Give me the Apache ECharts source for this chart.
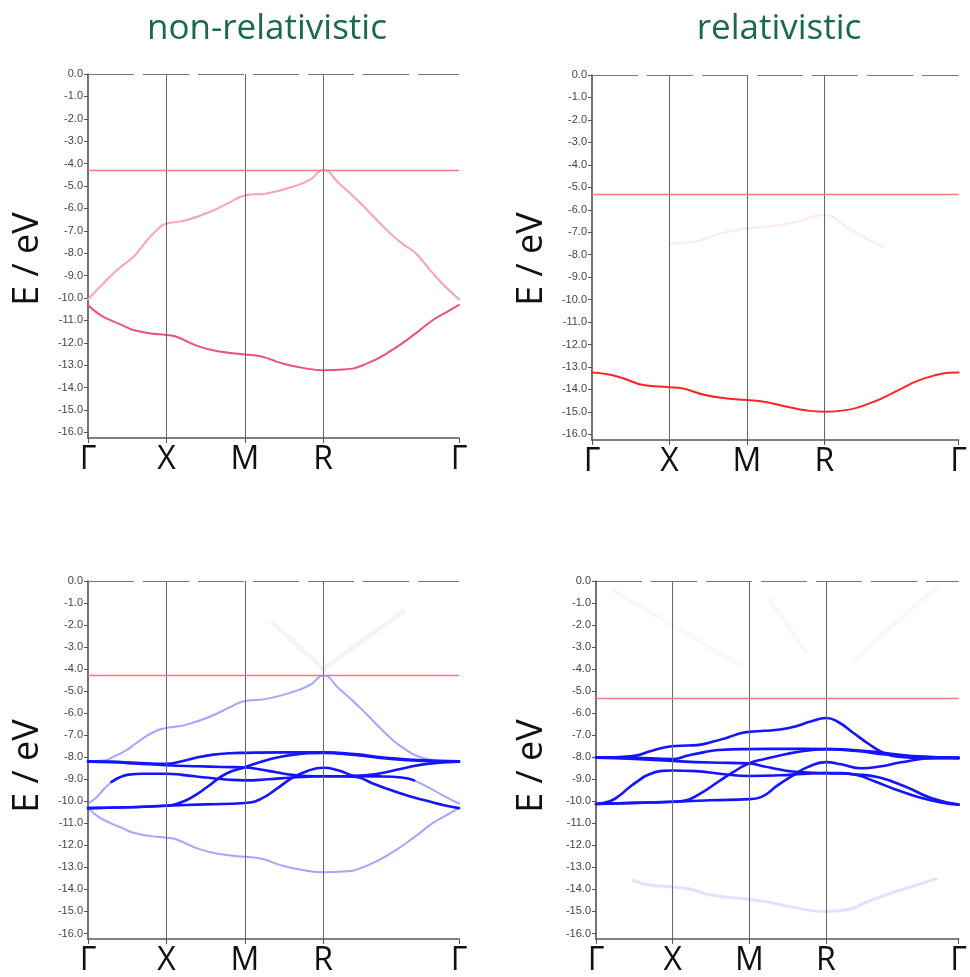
<!DOCTYPE html>
<html>
<head>
<meta charset="utf-8">
<script src="https://cdn.jsdelivr.net/npm/echarts@6/dist/echarts.min.js"></script>
<style>
  html, body { margin: 0; padding: 0; background: #ffffff; }
  #chart { width: 970px; height: 977px; }
</style>
</head>
<body>
<div id="chart"></div>
<script>
// k-path along the simple cubic Brillouin zone: Γ-X-M-R-Γ (path length units)
const KPOS = [0, 0.5, 1.0, 1.5, 2.366];
const KLABELS = ['Γ', 'X', 'M', 'R', 'Γ'];
const KMAX = 2.366;
const ETICKS = [0, -1, -2, -3, -4, -5, -6, -7, -8, -9, -10, -11, -12, -13, -14, -15, -16];
const E_MIN = -16.25;
const PANEL_TITLES = ['non-relativistic', 'relativistic'];
const AXIS_NAME = 'E / eV';

// Fermi levels (eV)
const NR_EF = -4.3;
const R_EF = -5.32;

// ---- non-relativistic s bands ----
const NR_S_UPPER = [[0,-10.06],[0.07,-9.55],[0.14,-9.05],[0.21,-8.6],[0.29,-8.16],[0.35,-7.65],[0.42,-7.1],[0.5,-6.67],[0.55,-6.62],[0.63,-6.52],[0.78,-6.15],[0.9,-5.75],[1.0,-5.42],[1.14,-5.33],[1.31,-5.03],[1.42,-4.7],[1.5,-4.29],[1.6,-4.88],[1.69,-5.45],[1.78,-6.07],[1.86,-6.65],[1.95,-7.26],[2.02,-7.65],[2.09,-8.0],[2.2,-8.9],[2.28,-9.5],[2.366,-10.06]];
const NR_S_LOWER = [[0,-10.31],[0.07,-10.72],[0.14,-10.98],[0.22,-11.22],[0.29,-11.43],[0.4,-11.58],[0.5,-11.65],[0.56,-11.72],[0.71,-12.17],[0.85,-12.4],[1.0,-12.52],[1.1,-12.6],[1.24,-12.92],[1.37,-13.12],[1.5,-13.22],[1.63,-13.19],[1.78,-12.92],[1.94,-12.32],[2.09,-11.58],[2.2,-10.98],[2.29,-10.62],[2.366,-10.31]];

// ---- relativistic s bands ----
const R_S_LOWER = [[0,-13.24],[0.1,-13.32],[0.2,-13.5],[0.33,-13.8],[0.5,-13.9],[0.58,-13.95],[0.73,-14.25],[0.87,-14.4],[1.0,-14.47],[1.11,-14.55],[1.26,-14.77],[1.38,-14.93],[1.5,-14.99],[1.64,-14.92],[1.79,-14.62],[1.9,-14.3],[2.0,-13.95],[2.1,-13.62],[2.22,-13.36],[2.3,-13.26],[2.366,-13.24]];
const R_S_UPPER = [[0.5,-7.5],[0.66,-7.42],[0.83,-7.05],[1.0,-6.83],[1.15,-6.75],[1.32,-6.53],[1.5,-6.23],[1.64,-6.75],[1.79,-7.35],[1.88,-7.64]];
const R_S_LOWER_WEAK = [[0.24,-13.59],[0.35,-13.8],[0.5,-13.89],[0.6,-13.97],[0.75,-14.25],[1.0,-14.45],[1.12,-14.57],[1.26,-14.78],[1.5,-15.0],[1.64,-14.92],[1.77,-14.56],[1.93,-14.15],[2.09,-13.81],[2.22,-13.51]];

// ---- non-relativistic bands, s+d projection ----
const NR_SD_UP1 = [[0,-10.09],[0.05,-9.85],[0.1,-9.45],[0.15,-9.12]];
const NR_SD_UP2 = [[0,-8.18],[0.1,-8.15],[0.17,-7.95],[0.24,-7.7],[0.3,-7.4],[0.36,-7.1],[0.43,-6.82],[0.5,-6.67],[0.55,-6.62],[0.63,-6.52],[0.78,-6.15],[0.9,-5.75],[1.0,-5.45],[1.14,-5.35],[1.31,-5.03],[1.42,-4.7],[1.5,-4.29],[1.6,-4.88],[1.69,-5.45],[1.78,-6.07],[1.86,-6.65],[1.95,-7.26],[2.02,-7.62],[2.09,-7.92],[2.18,-8.1],[2.28,-8.17],[2.366,-8.18]];
const NR_SD_TAIL = [[2.08,-9.05],[2.18,-9.4],[2.28,-9.8],[2.366,-10.1]];
const NR_D1 = [[0,-8.18],[0.15,-8.2],[0.3,-8.25],[0.5,-8.3],[0.6,-8.18],[0.7,-8.0],[0.8,-7.88],[0.9,-7.82],[1.0,-7.8],[1.25,-7.78],[1.5,-7.78],[1.7,-7.86],[1.9,-8.02],[2.1,-8.13],[2.366,-8.18]];
const NR_D2 = [[0,-10.31],[0.25,-10.27],[0.5,-10.2],[0.55,-10.15],[0.63,-9.94],[0.7,-9.65],[0.76,-9.35],[0.88,-8.75],[1.0,-8.45],[1.1,-8.22],[1.2,-8.02],[1.3,-7.9],[1.4,-7.82],[1.5,-7.8],[1.7,-7.9],[1.9,-8.06],[2.1,-8.16],[2.366,-8.2]];
const NR_D3 = [[0,-8.2],[0.15,-8.23],[0.3,-8.28],[0.5,-8.36],[0.7,-8.41],[0.85,-8.44],[1.0,-8.46],[1.1,-8.56],[1.2,-8.68],[1.3,-8.8],[1.4,-8.85],[1.5,-8.86],[1.6,-8.86],[1.71,-8.9],[1.82,-9.2],[1.93,-9.49],[2.05,-9.77],[2.16,-9.98],[2.27,-10.18],[2.366,-10.31]];
const NR_D4 = [[0.15,-9.12],[0.2,-8.92],[0.26,-8.79],[0.35,-8.75],[0.5,-8.75],[0.6,-8.8],[0.75,-8.92],[0.9,-9.02],[1.0,-9.05],[1.15,-9.0],[1.3,-8.92],[1.5,-8.86],[1.7,-8.86],[1.85,-8.87],[2.0,-8.92],[2.08,-9.05]];
const NR_D5 = [[0,-10.31],[0.25,-10.27],[0.5,-10.2],[0.75,-10.14],[1.0,-10.08],[1.1,-9.9],[1.2,-9.45],[1.3,-8.95],[1.4,-8.62],[1.5,-8.48],[1.6,-8.6],[1.71,-8.84],[1.85,-8.75],[2.0,-8.52],[2.16,-8.3],[2.366,-8.2]];
const NR_FAINT = [[[1.18,-1.9],[1.5,-4.0]], [[1.5,-4.0],[2.01,-1.38]]];

// ---- relativistic bands, s+d projection ----
const R_D1 = [[0,-8.0],[0.12,-8.0],[0.24,-7.95],[0.36,-7.72],[0.47,-7.52],[0.55,-7.48],[0.66,-7.45],[0.76,-7.3],[0.86,-7.1],[0.95,-6.9],[1.0,-6.85],[1.1,-6.8],[1.2,-6.74],[1.3,-6.6],[1.4,-6.38],[1.5,-6.22],[1.58,-6.4],[1.68,-6.9],[1.78,-7.4],[1.87,-7.78],[1.97,-7.98],[2.1,-8.03],[2.366,-8.04]];
const R_D2 = [[0,-8.0],[0.25,-8.02],[0.5,-8.08],[0.6,-7.92],[0.7,-7.78],[0.8,-7.67],[1.0,-7.63],[1.25,-7.62],[1.5,-7.63],[1.7,-7.68],[1.9,-7.82],[2.1,-7.96],[2.366,-8.03]];
const R_D3 = [[0,-8.02],[0.25,-8.08],[0.5,-8.17],[0.75,-8.24],[1.0,-8.28],[1.1,-8.42],[1.2,-8.56],[1.3,-8.66],[1.5,-8.72],[1.7,-8.78],[1.85,-8.92],[2.02,-9.34],[2.19,-9.86],[2.366,-10.15]];
const R_D4 = [[0,-10.12],[0.25,-10.07],[0.5,-10.02],[0.58,-9.97],[0.68,-9.65],[0.8,-9.1],[0.9,-8.65],[1.0,-8.27],[1.1,-8.08],[1.2,-7.92],[1.3,-7.78],[1.4,-7.68],[1.5,-7.63],[1.7,-7.72],[1.9,-7.88],[2.1,-7.98],[2.366,-8.03]];
const R_D5 = [[0,-10.12],[0.09,-10.0],[0.16,-9.7],[0.22,-9.35],[0.28,-9.05],[0.33,-8.83],[0.43,-8.62],[0.5,-8.6],[0.65,-8.63],[0.82,-8.76],[1.0,-8.85],[1.2,-8.82],[1.35,-8.76],[1.5,-8.72],[1.6,-8.72],[1.7,-8.8],[1.82,-9.1],[1.95,-9.45],[2.1,-9.8],[2.25,-10.05],[2.366,-10.15]];
const R_D6 = [[0,-10.12],[0.25,-10.07],[0.5,-10.02],[0.75,-9.95],[1.0,-9.9],[1.08,-9.8],[1.18,-9.3],[1.28,-8.85],[1.38,-8.45],[1.5,-8.22],[1.6,-8.32],[1.73,-8.5],[1.85,-8.42],[1.99,-8.23],[2.2,-8.04],[2.366,-8.03]];
const R_FAINT = [[[0.113,-0.42],[0.943,-3.84]], [[1.135,-0.86],[1.369,-3.24]], [[1.667,-3.69],[2.221,-0.27]]];

// ---- layout / styles ----
const GRIDS = [
  { left: 88,  top: 74,  width: 371, height: 364 },
  { left: 592, top: 75,  width: 371, height: 365 },
  { left: 88,  top: 581, width: 371, height: 365 },
  { left: 596, top: 581, width: 370, height: 365 }
];
const PANEL_EF = [NR_EF, R_EF, NR_EF, R_EF];

const DARK_BLUE = '#1414ff';
const LIGHT_BLUE = 'rgba(110,110,255,0.62)';

const xAxes = GRIDS.map((g, i) => ({
  gridIndex: i, type: 'value', min: 0, max: KMAX,
  axisLine: { show: true, onZero: false, lineStyle: { color: '#555', width: 1.5 } },
  axisTick: { show: true, customValues: KPOS, length: 5, lineStyle: { color: '#555' } },
  axisLabel: {
    show: true, customValues: KPOS, margin: 6,
    fontFamily: 'Open Sans', fontSize: 32, color: '#111',
    formatter: v => { const j = KPOS.findIndex(p => Math.abs(p - v) < 1e-6); return j >= 0 ? KLABELS[j] : ''; }
  },
  splitLine: { show: false }
}));

const yAxes = GRIDS.map((g, i) => ({
  gridIndex: i, type: 'value', min: E_MIN, max: 0,
  axisLine: { show: true, onZero: false, lineStyle: { color: '#444', width: 1.5 } },
  axisTick: { show: true, customValues: ETICKS, length: 4, lineStyle: { color: '#555' } },
  axisLabel: {
    show: true, customValues: ETICKS, margin: 5,
    fontFamily: 'Liberation Sans', fontSize: 11, color: '#444',
    formatter: v => (Math.abs(v) < 1e-9 ? '0.0' : v.toFixed(1))
  },
  splitLine: { show: false }
}));

function band(i, data, color, width) {
  return {
    type: 'line', xAxisIndex: i, yAxisIndex: i, data: data,
    showSymbol: false, smooth: 0.5,
    lineStyle: { color: color, width: width, cap: 'round', join: 'round' }, silent: true, z: 3
  };
}

// frame: symmetry-point verticals, right edge, top edge and Fermi level
function frame(i) {
  return {
    type: 'line', xAxisIndex: i, yAxisIndex: i, data: [], silent: true, z: 2,
    markLine: {
      silent: true, symbol: ['none', 'none'], label: { show: false }, animation: false,
      data: [
        { xAxis: KPOS[1], lineStyle: { color: '#666', width: 1, type: 'solid' } },
        { xAxis: KPOS[2], lineStyle: { color: '#666', width: 1, type: 'solid' } },
        { xAxis: KPOS[3], lineStyle: { color: '#666', width: 1, type: 'solid' } },
        { xAxis: KMAX, lineStyle: { color: '#777', width: 1.2, type: 'solid' } },
        { yAxis: 0, lineStyle: { color: '#777', width: 1.2, type: [46, 9] } },
        { yAxis: PANEL_EF[i], lineStyle: { color: '#f27a80', width: 1.3, type: 'solid' } }
      ]
    }
  };
}

const series = [];
[0, 1, 2, 3].forEach(i => series.push(frame(i)));

// panel 0: non-relativistic s bands
series.push(band(0, NR_S_UPPER, '#f7a3b6', 2));
series.push(band(0, NR_S_LOWER, '#ec5082', 2));

// panel 1: relativistic s bands
series.push(band(1, R_S_UPPER, 'rgba(250,150,170,0.22)', 2));
series.push(band(1, R_S_LOWER, '#ff2424', 2));

// panel 2: non-relativistic s+d
NR_FAINT.forEach(d => series.push(band(2, d, 'rgba(170,170,190,0.12)', 5)));
series.push(band(2, NR_S_LOWER, LIGHT_BLUE, 2));
series.push(band(2, NR_SD_UP1, LIGHT_BLUE, 2));
series.push(band(2, NR_SD_UP2, LIGHT_BLUE, 2));
series.push(band(2, NR_SD_TAIL, LIGHT_BLUE, 2));
[NR_D1, NR_D2, NR_D3, NR_D4, NR_D5].forEach(d => series.push(band(2, d, DARK_BLUE, 2.6)));

// panel 3: relativistic s+d
R_FAINT.forEach(d => series.push(band(3, d, 'rgba(160,160,210,0.06)', 5)));
series.push(band(3, R_S_LOWER_WEAK, 'rgba(140,140,255,0.25)', 3));
[R_D1, R_D2, R_D3, R_D4, R_D5, R_D6].forEach(d => series.push(band(3, d, DARK_BLUE, 2.6)));

const TITLE_FONT = '35px "Open Sans"';
const NAME_FONT = '36px "Open Sans"';
const graphic = [
  { type: 'text', x: 267, y: 29, style: { text: PANEL_TITLES[0], font: TITLE_FONT, fill: '#1a6b45', textAlign: 'center', textVerticalAlign: 'middle' } },
  { type: 'text', x: 779, y: 29, style: { text: PANEL_TITLES[1], font: TITLE_FONT, fill: '#1a6b45', textAlign: 'center', textVerticalAlign: 'middle' } },
  { type: 'text', x: 28,  y: 259, rotation: Math.PI / 2, style: { text: AXIS_NAME, font: NAME_FONT, fill: '#111', textAlign: 'center', textVerticalAlign: 'middle' } },
  { type: 'text', x: 532, y: 259, rotation: Math.PI / 2, style: { text: AXIS_NAME, font: NAME_FONT, fill: '#111', textAlign: 'center', textVerticalAlign: 'middle' } },
  { type: 'text', x: 28,  y: 766, rotation: Math.PI / 2, style: { text: AXIS_NAME, font: NAME_FONT, fill: '#111', textAlign: 'center', textVerticalAlign: 'middle' } },
  { type: 'text', x: 532, y: 766, rotation: Math.PI / 2, style: { text: AXIS_NAME, font: NAME_FONT, fill: '#111', textAlign: 'center', textVerticalAlign: 'middle' } }
];

const chart = echarts.init(document.getElementById('chart'), null, { renderer: 'canvas' });
chart.setOption({
  backgroundColor: '#ffffff',
  animation: false,
  grid: GRIDS.map(g => Object.assign({ containLabel: false }, g)),
  xAxis: xAxes,
  yAxis: yAxes,
  series: series,
  graphic: graphic
});
</script>
</body>
</html>
